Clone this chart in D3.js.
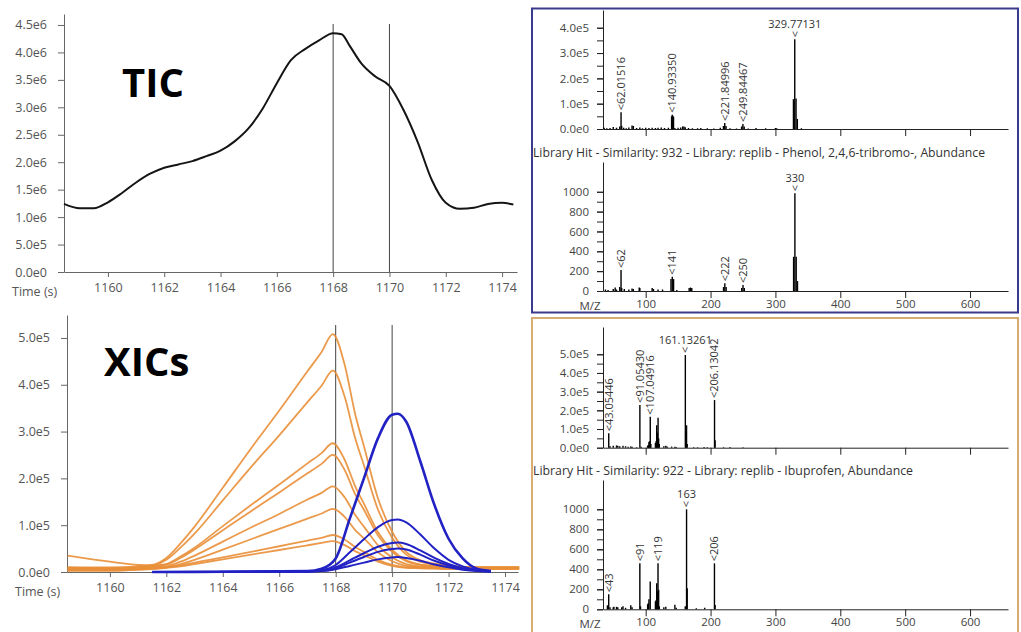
<!DOCTYPE html>
<html>
<head>
<meta charset="utf-8">
<script src="https://cdn.jsdelivr.net/npm/d3@7"></script>
<style>
  body { margin: 0; background: #fff; }
  text { font-family: "Open Sans", "DejaVu Sans", sans-serif; }
</style>
</head>
<body>
<svg id="chart" width="1021" height="632"></svg>
<script>
// ---- TIC (units of 1e6) ----
const ticTime = [1158.44, 1159, 1159.5, 1160, 1160.5, 1161, 1161.5, 1162, 1162.5, 1163, 1163.5, 1164, 1164.5, 1165, 1165.5, 1166, 1166.5, 1167, 1167.5, 1168, 1168.3, 1168.6, 1169, 1169.5, 1170, 1170.5, 1171, 1171.5, 1172, 1172.5, 1173, 1173.5, 1174, 1174.4];
const ticSignal = [1.24, 1.16, 1.16, 1.27, 1.44, 1.63, 1.79, 1.90, 1.96, 2.02, 2.11, 2.21, 2.38, 2.62, 2.98, 3.44, 3.86, 4.06, 4.22, 4.35, 4.33, 4.11, 3.80, 3.56, 3.39, 2.95, 2.37, 1.68, 1.26, 1.15, 1.17, 1.24, 1.26, 1.23];
const ticYTicks = [0, 0.5, 1, 1.5, 2, 2.5, 3, 3.5, 4, 4.5];
const ticYLabels = ["0.0e0", "5.0e5", "1.0e6", "1.5e6", "2.0e6", "2.5e6", "3.0e6", "3.5e6", "4.0e6", "4.5e6"];
const timeTicks = [1160, 1162, 1164, 1166, 1168, 1170, 1172, 1174];
const markerTimes = [1168, 1170];

// ---- XICs (units of 1e5) ----
const orangeTime = [1158.5, 1160, 1161, 1161.5, 1162, 1162.5, 1163, 1164, 1165, 1166, 1167, 1167.5, 1167.9, 1168.3, 1168.7, 1169, 1169.5, 1170, 1170.5, 1171, 1171.5, 1172, 1173, 1174.5];
const orange1 = [0.1, 0.1, 0.12, 0.15, 0.3, 0.61, 0.97, 1.8, 2.64, 3.45, 4.29, 4.7, 5.08, 4.47, 3.35, 2.69, 1.57, 0.86, 0.43, 0.25, 0.18, 0.14, 0.1, 0.1];
const orange2 = [0.08, 0.08, 0.1, 0.13, 0.26, 0.52, 0.82, 1.53, 2.24, 2.92, 3.63, 3.98, 4.3, 3.78, 2.84, 2.28, 1.33, 0.73, 0.37, 0.22, 0.16, 0.12, 0.1, 0.1];
const orange3 = [0.1, 0.08, 0.1, 0.12, 0.17, 0.33, 0.52, 0.98, 1.43, 1.87, 2.32, 2.54, 2.75, 2.42, 1.82, 1.46, 0.85, 0.47, 0.25, 0.16, 0.13, 0.11, 0.1, 0.1];
const orange4 = [0.35, 0.22, 0.15, 0.14, 0.16, 0.3, 0.48, 0.89, 1.3, 1.7, 2.11, 2.31, 2.5, 2.2, 1.65, 1.33, 0.78, 0.43, 0.23, 0.15, 0.12, 0.1, 0.1, 0.1];
const orange5 = [0.05, 0.05, 0.07, 0.1, 0.12, 0.22, 0.35, 0.65, 0.95, 1.24, 1.55, 1.69, 1.83, 1.61, 1.21, 0.97, 0.57, 0.31, 0.17, 0.12, 0.1, 0.09, 0.08, 0.08];
const orange6 = [0.05, 0.05, 0.07, 0.09, 0.1, 0.17, 0.26, 0.48, 0.7, 0.92, 1.14, 1.25, 1.35, 1.19, 0.89, 0.72, 0.42, 0.23, 0.13, 0.1, 0.09, 0.08, 0.08, 0.08];
const orange7 = [0.03, 0.03, 0.05, 0.07, 0.1, 0.14, 0.2, 0.31, 0.43, 0.55, 0.67, 0.73, 0.79, 0.7, 0.53, 0.43, 0.26, 0.15, 0.1, 0.09, 0.08, 0.07, 0.07, 0.07];
const orange8 = [0.03, 0.03, 0.05, 0.06, 0.09, 0.12, 0.17, 0.27, 0.37, 0.47, 0.57, 0.62, 0.66, 0.58, 0.44, 0.36, 0.22, 0.13, 0.09, 0.08, 0.07, 0.06, 0.06, 0.06];

const blueTime = [1161.5, 1167, 1167.5, 1168, 1168.5, 1169, 1169.5, 1170, 1170.2, 1170.5, 1171, 1171.5, 1172, 1172.5, 1173, 1173.5];
const blue1 = [0, 0.02, 0.07, 0.29, 1.14, 2.0, 2.86, 3.36, 3.38, 3.21, 2.36, 1.43, 0.71, 0.29, 0.07, 0.02];
const blue2 = [0, 0.01, 0.04, 0.15, 0.42, 0.7, 0.96, 1.11, 1.12, 1.06, 0.8, 0.5, 0.26, 0.12, 0.05, 0.02];
const blue3 = [0, 0.01, 0.03, 0.1, 0.25, 0.4, 0.54, 0.62, 0.63, 0.6, 0.46, 0.3, 0.17, 0.08, 0.03, 0.01];
const blue4 = [0, 0.01, 0.02, 0.08, 0.2, 0.32, 0.43, 0.49, 0.5, 0.48, 0.37, 0.24, 0.14, 0.07, 0.03, 0.01];
const blue5 = [0, 0.01, 0.02, 0.06, 0.13, 0.2, 0.27, 0.31, 0.32, 0.3, 0.24, 0.16, 0.1, 0.05, 0.02, 0.01];
const xicYTicks = [0, 1, 2, 3, 4, 5];
const xicYLabels = ["0.0e0", "1.0e5", "2.0e5", "3.0e5", "4.0e5", "5.0e5"];

// ---- spectra: [m/z, intensity] ----
// phenol sample spectrum (1e5)
const phenolPeaks = [[36,0.05],[40,0.03],[45,0.04],[50,0.08],[55,0.05],[60,0.1],[62.02,0.66],[63,0.12],[66,0.05],[70,0.03],[74,0.06],[79,0.14],[81,0.12],[86,0.04],[91,0.06],[95,0.03],[100,0.05],[105,0.04],[110,0.05],[115,0.04],[119,0.05],[124,0.06],[129,0.04],[135,0.05],[139.93,0.5],[140.93,0.56],[141.93,0.52],[142.93,0.48],[145,0.04],[150,0.05],[154,0.06],[157,0.1],[159,0.1],[161,0.07],[166,0.04],[172,0.03],[180,0.03],[185,0.04],[195,0.03],[205,0.02],[215,0.05],[219.85,0.12],[221.85,0.24],[223.85,0.12],[230,0.03],[240,0.02],[247.85,0.1],[249.85,0.2],[251.85,0.1],[258,0.02],[270,0.04],[285,0.03],[300,0.04],[302,0.03],[327.77,1.18],[329.77,3.54],[331.77,1.2],[333.77,0.4],[340,0.03]];
const phenolLabels = [[62.02,0.66,"<62.01516",true],[140.93,0.56,"<140.93350",true],[221.85,0.24,"<221.84996",true],[249.85,0.2,"<249.84467",true],[329.77,3.54,"329.77131",false]];
// phenol library hit
const phenolLibPeaks = [[38,15],[42,10],[50,20],[53,35],[55,15],[60,40],[62,211],[63,30],[67,20],[74,15],[79,25],[81,20],[90,35],[91,30],[110,30],[112,20],[119,15],[126,15],[139,120],[141,144],[143,120],[148,10],[167,30],[169,35],[171,30],[220,40],[222,77],[224,40],[248,30],[250,60],[252,30],[328,345],[330,985],[332,345],[334,100]];
const phenolLibLabels = [[62,211,"<62",true],[141,144,"<141",true],[222,77,"<222",true],[250,60,"<250",true],[330,985,"330",false]];
// ibuprofen sample spectrum (1e5)
const ibuPeaks = [[43.05,0.77],[45,0.08],[50,0.1],[55,0.12],[57,0.1],[60,0.08],[65,0.1],[69,0.08],[73,0.05],[77,0.06],[79,0.05],[86,0.03],[91.05,2.29],[93,0.05],[103,0.1],[104,0.15],[105,0.3],[106,0.35],[107.05,1.66],[108,0.2],[115,0.25],[116,0.35],[117,1.2],[118,0.8],[119.09,1.6],[120,0.5],[121,0.2],[128,0.08],[131,0.1],[133,0.06],[140,0.06],[145,0.05],[147,0.04],[161.13,4.96],[162,0.3],[163,1.2],[164,0.2],[174,0.03],[180,0.03],[190,0.04],[195,0.03],[206.13,2.55],[207,0.4],[220,0.03],[230,0.04],[250,0.03]];
const ibuLabels = [[43.05,0.77,"<43.05446",true],[91.05,2.29,"<91.05430",true],[107.05,1.66,"<107.04916",true],[161.13,4.96,"161.13261",false],[206.13,2.55,"<206.13042",true]];
// ibuprofen library hit
const ibuLibPeaks = [[41,40],[43,150],[45,20],[50,20],[51,25],[55,25],[57,20],[63,20],[65,30],[69,15],[77,40],[79,20],[91,460],[92,30],[103,50],[104,60],[105,100],[107,277],[115,80],[116,90],[117,260],[118,180],[119,460],[120,195],[121,30],[128,20],[131,25],[145,45],[147,15],[161,30],[163,1000],[164,210],[178,10],[191,15],[206,460],[207,43]];
const ibuLibLabels = [[43,150,"<43",true],[91,460,"<91",true],[119,460,"<119",true],[163,1000,"163",false],[206,460,"<206",true]];

const mzTicks = [100, 200, 300, 400, 500, 600];
const e5Major = [0, 1, 2, 3, 4, 5];
const e5Labels = ["0.0e0", "1.0e5", "2.0e5", "3.0e5", "4.0e5", "5.0e5"];
const libMajor = [0, 200, 400, 600, 800, 1000];

const svg = d3.select("#chart");
const axisGrey = "#666";

// ---------- chromatogram helper ----------
function chromAxes(g, x, y, yTicks, yLabels, labelX) {
  const xAx = g.append("g")
    .attr("transform", `translate(0,${y(0)})`)
    .call(d3.axisBottom(x).tickValues(timeTicks).tickFormat(d3.format("d"))
      .tickSize(5).tickPadding(6).tickSizeOuter(0));
  const yAx = g.append("g")
    .attr("transform", `translate(${x.range()[0]},0)`)
    .call(d3.axisLeft(y).tickValues(yTicks).tickFormat((d, i) => yLabels[i]).tickSize(6).tickPadding(11).tickSizeOuter(0));
  [xAx, yAx].forEach(a => {
    a.select(".domain").attr("stroke", axisGrey);
    a.selectAll(".tick line").attr("stroke", axisGrey);
    a.selectAll("text").attr("fill", "#555").attr("font-size", 12.5).attr("font-family", "Open Sans");
  });
  g.append("text").attr("x", labelX).attr("y", y(0) + 24)
    .attr("fill", "#555").attr("font-size", 12.5).text("Time (s)");
}

// ---------- TIC ----------
const ticX = d3.scaleLinear().domain([1158.44, 1174.53]).range([64, 517]);
const ticY = d3.scaleLinear().domain([0, 4.7]).range([272, 14]);
const gTic = svg.append("g");
chromAxes(gTic, ticX, ticY, ticYTicks, ticYLabels, 12);
gTic.selectAll(".marker").data(markerTimes).join("line")
  .attr("x1", d => ticX(d)).attr("x2", d => ticX(d))
  .attr("y1", 24).attr("y2", ticY(0))
  .attr("stroke", "#444").attr("stroke-width", 1);
gTic.append("path")
  .datum(ticTime.map((t, i) => [t, ticSignal[i]]))
  .attr("fill", "none").attr("stroke", "#151515").attr("stroke-width", 2)
  .attr("d", d3.line().x(d => ticX(d[0])).y(d => ticY(d[1])).curve(d3.curveMonotoneX));
gTic.append("text").attr("x", 122).attr("y", 97)
  .attr("font-family", "DejaVu Sans").attr("font-weight", "bold").attr("font-size", 40)
  .attr("fill", "#000").text("TIC");

// ---------- XICs ----------
const xicX = d3.scaleLinear().domain([1158.48, 1174.46]).range([67, 518]);
const xicY = d3.scaleLinear().domain([0, 5.49]).range([572, 315]);
const gXic = svg.append("g");
chromAxes(gXic, xicX, xicY, xicYTicks, xicYLabels, 15);
gXic.selectAll(".marker").data(markerTimes).join("line")
  .attr("x1", d => xicX(d)).attr("x2", d => xicX(d))
  .attr("y1", 325).attr("y2", xicY(0))
  .attr("stroke", "#444").attr("stroke-width", 1);
const xicLine = d3.line().x(d => xicX(d[0])).y(d => xicY(d[1])).curve(d3.curveMonotoneX);
const orangeSeries = [orange1, orange2, orange3, orange4, orange5, orange6, orange7, orange8];
const blueSeries = [blue1, blue2, blue3, blue4, blue5];
gXic.selectAll(".orange").data(orangeSeries).join("path")
  .attr("fill", "none").attr("stroke", "#E98F38").attr("stroke-width", 1.8).attr("stroke-opacity", 0.9)
  .attr("d", s => xicLine(orangeTime.map((t, i) => [t, s[i]])));
gXic.selectAll(".blue").data(blueSeries).join("path")
  .attr("fill", "none").attr("stroke", "#2222C4").attr("stroke-width", (d, i) => i === 0 ? 2.6 : 2)
  .attr("d", s => xicLine(blueTime.map((t, i) => [t, s[i]])));
gXic.append("text").attr("x", 104).attr("y", 376)
  .attr("font-family", "DejaVu Sans").attr("font-weight", "bold").attr("font-size", 40)
  .attr("fill", "#000").text("XICs");

// ---------- spectra ----------
const mzX = d3.scaleLinear().domain([34.2, 658.5]).range([603, 1008]);

function spectrum(cfg) {
  const g = svg.append("g");
  const y = d3.scaleLinear().domain(cfg.domain).range([cfg.base, cfg.top]);
  const minor = d3.range(0, cfg.minorMax + 1e-9, cfg.minorStep);
  g.append("g").attr("transform", `translate(603,0)`)
    .call(d3.axisLeft(y).tickValues(minor).tickSize(6).tickFormat("").tickSizeOuter(0));
  const yAx = g.append("g").attr("transform", `translate(603,0)`)
    .call(d3.axisLeft(y).tickValues(cfg.major).tickFormat((d, i) => cfg.labels[i]).tickSize(6).tickPadding(8).tickSizeOuter(0));
  yAx.select(".domain").remove();
  g.append("g").attr("transform", `translate(0,${cfg.base})`)
    .call(d3.axisBottom(mzX).tickValues(mzTicks).tickSize(7).tickPadding(2).tickSizeOuter(0)
      .tickFormat(cfg.mzLabels ? d3.format("d") : ""));
  g.selectAll(".domain").attr("stroke", "#222");
  g.selectAll(".tick line").attr("stroke", "#222");
  g.selectAll(".tick text").attr("fill", "#444").attr("font-size", 11.5);
  if (cfg.mzLabels) {
    g.append("text").attr("x", 590).attr("y", cfg.base + 19).attr("text-anchor", "middle")
      .attr("fill", "#444").attr("font-size", 11.5).text("M/Z");
  }
  g.selectAll(".bar").data(cfg.peaks).join("line")
    .attr("x1", d => mzX(d[0])).attr("x2", d => mzX(d[0]))
    .attr("y1", cfg.base).attr("y2", d => y(d[1]))
    .attr("stroke", "#000").attr("stroke-width", 1.4);
  const lab = g.selectAll(".lab").data(cfg.peakLabels).join("g")
    .attr("transform", d => `translate(${mzX(d[0])},${y(d[1]) - 2})`);
  lab.filter(d => d[3]).append("text")
    .attr("transform", "rotate(-90)").attr("dy", "0.35em")
    .attr("font-size", 11).attr("fill", "#333").text(d => d[2]);
  lab.filter(d => !d[3]).append("text")
    .attr("transform", "rotate(-90)").attr("dy", "0.35em")
    .attr("font-size", 11).attr("fill", "#333").text("<");
  lab.filter(d => !d[3]).append("text")
    .attr("y", -9).attr("text-anchor", "middle")
    .attr("font-size", 11).attr("fill", "#333").text(d => d[2]);
}

// boxes
svg.append("rect").attr("x", 532).attr("y", 8.5).attr("width", 486).attr("height", 304)
  .attr("fill", "none").attr("stroke", "#3b3b8e").attr("stroke-width", 2);
svg.append("rect").attr("x", 532).attr("y", 318).attr("width", 486).attr("height", 320)
  .attr("fill", "none").attr("stroke", "#d8ab70").attr("stroke-width", 2);

spectrum({ domain: [0, 4.7], base: 129, top: 10, major: [0, 1, 2, 3, 4], labels: e5Labels,
  minorMax: 4, minorStep: 0.5, peaks: phenolPeaks, peakLabels: phenolLabels, mzLabels: false });
svg.append("text").attr("x", 533).attr("y", 157).attr("fill", "#333").attr("font-size", 12)
  .attr("textLength", 452).attr("lengthAdjust", "spacingAndGlyphs")
  .text("Library Hit - Similarity: 932 - Library: replib - Phenol, 2,4,6-tribromo-, Abundance");
spectrum({ domain: [0, 1300], base: 291, top: 162, major: libMajor, labels: libMajor.map(String),
  minorMax: 1000, minorStep: 100, peaks: phenolLibPeaks, peakLabels: phenolLibLabels, mzLabels: true });

spectrum({ domain: [0, 6.46], base: 447.7, top: 327, major: e5Major, labels: e5Labels,
  minorMax: 5, minorStep: 0.5, peaks: ibuPeaks, peakLabels: ibuLabels, mzLabels: false });
svg.append("text").attr("x", 533).attr("y", 475).attr("fill", "#333").attr("font-size", 12)
  .attr("textLength", 380).attr("lengthAdjust", "spacingAndGlyphs")
  .text("Library Hit - Similarity: 922 - Library: replib - Ibuprofen, Abundance");
spectrum({ domain: [0, 1293], base: 609.3, top: 480, major: libMajor, labels: libMajor.map(String),
  minorMax: 1000, minorStep: 100, peaks: ibuLibPeaks, peakLabels: ibuLibLabels, mzLabels: true });
</script>
</body>
</html>
